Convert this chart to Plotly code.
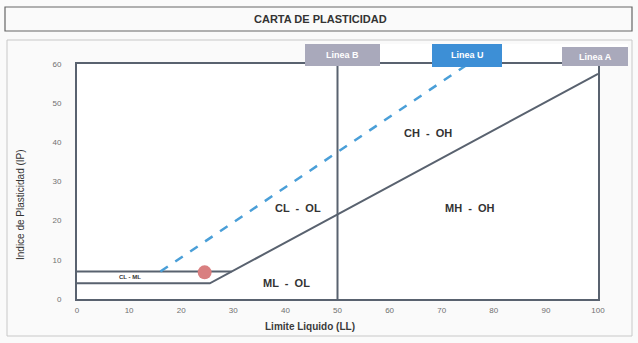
import plotly.graph_objects as go

# ---- data ----
x_ticks = [0, 10, 20, 30, 40, 50, 60, 70, 80, 90, 100]
y_ticks = [0, 10, 20, 30, 40, 50, 60]

linea_a_ll = [0, 25.5, 100]
linea_a_ip = [4, 4, 57.5]

cl_ml_ll = [0, 29.7]
cl_ml_ip = [7, 7]

linea_u_ll = [16, 74.5]
linea_u_ip = [7, 59.5]

linea_b_ll = [50, 50]
linea_b_ip = [0, 60]

muestra_ll = [24.5]
muestra_ip = [6.8]

zonas = ["CH  -  OH", "CL  -  OL", "MH  -  OH", "ML  -  OL", "CL - ML"]
zonas_ll = [67.4, 42.4, 75.4, 40.3, 10.2]
zonas_ip = [42.5, 23.2, 23.2, 4.1, 5.5]
zonas_size = [11, 11, 11, 11, 6]

leyenda = ["Linea B", "Linea U", "Linea A"]
leyenda_colores = ["#a9a9bb", "#3d8fd6", "#a9a9bb"]

# ---- layout helpers (pixel -> paper) ----
W, H = 638, 343
L, R, T, B = 77, 40, 64, 44
pw, ph = W - L - R, H - T - B


def px(x):
    return (x - L) / pw


def py(y):
    return (H - B - y) / ph


LINE = "#59626f"
fig = go.Figure()

fig.add_trace(go.Scatter(x=linea_b_ll, y=linea_b_ip, mode="lines",
                         line=dict(color=LINE, width=2), hoverinfo="skip"))
fig.add_trace(go.Scatter(x=cl_ml_ll, y=cl_ml_ip, mode="lines",
                         line=dict(color=LINE, width=2), hoverinfo="skip"))
fig.add_trace(go.Scatter(x=linea_a_ll, y=linea_a_ip, mode="lines",
                         line=dict(color=LINE, width=2), hoverinfo="skip"))
fig.add_trace(go.Scatter(x=linea_u_ll, y=linea_u_ip, mode="lines",
                         line=dict(color="#4a9fd8", width=2.5, dash="dash"),
                         hoverinfo="skip"))
fig.add_trace(go.Scatter(x=muestra_ll, y=muestra_ip, mode="markers",
                         marker=dict(color="#d97f80", size=14), hoverinfo="skip"))

annotations = []
for t, xx, yy, s in zip(zonas, zonas_ll, zonas_ip, zonas_size):
    annotations.append(dict(x=xx, y=yy, xref="x", yref="y", text=f"<b>{t}</b>",
                            showarrow=False, xanchor="center", yanchor="middle",
                            font=dict(family="Liberation Sans", size=s, color="#333333")))


def pann(x, y, text, size, color, angle=0):
    return dict(x=px(x), y=py(y), xref="paper", yref="paper", text=text,
                showarrow=False, xanchor="center", yanchor="middle", textangle=angle,
                font=dict(family="Liberation Sans", size=size, color=color))


annotations.append(pann(320, 19, "<b>CARTA DE PLASTICIDAD</b>", 11, "#333333"))
annotations.append(pann(310, 326, "<b>Limite Liquido (LL)</b>", 10, "#3a3a3a"))
annotations.append(pann(20, 205, "Indice de Plasticidad (IP)", 10, "#333333", -90))

shapes = [
    # title box
    dict(type="rect", xref="paper", yref="paper", x0=px(5), x1=px(632), y0=py(31), y1=py(7),
         line=dict(color="#666666", width=1.2), fillcolor="rgba(0,0,0,0)", layer="below"),
    # outer chart frame
    dict(type="rect", xref="paper", yref="paper", x0=px(7), x1=px(632), y0=py(336), y1=py(40),
         line=dict(color="#c8c8c8", width=1), fillcolor="rgba(0,0,0,0)", layer="below"),
    # white legend strip
    dict(type="rect", xref="paper", yref="paper", x0=px(305), x1=px(628), y0=py(66), y1=py(44),
         line=dict(width=0), fillcolor="#ffffff", layer="below"),
]

boxes = [(305, 380, 44, 66), (432, 502, 44, 67), (562, 628, 47, 66)]
for (x0, x1, y0, y1), txt, col in zip(boxes, leyenda, leyenda_colores):
    shapes.append(dict(type="rect", xref="paper", yref="paper", x0=px(x0), x1=px(x1),
                       y0=py(y1), y1=py(y0), line=dict(width=0), fillcolor=col))
    annotations.append(pann((x0 + x1) / 2, (y0 + y1) / 2, f"<b>{txt}</b>", 9, "#ffffff"))

fig.update_layout(
    width=W, height=H,
    margin=dict(l=L, r=R, t=T, b=B),
    paper_bgcolor="#fafafa",
    plot_bgcolor="#ffffff",
    showlegend=False,
    annotations=annotations,
    shapes=shapes,
    xaxis=dict(range=[0, 100], tickvals=x_ticks, showgrid=False, zeroline=False,
               showline=True, mirror=True, linecolor=LINE, linewidth=2,
               ticks="", ticklabelstandoff=2,
               tickfont=dict(family="Liberation Sans", size=8, color="#707070")),
    yaxis=dict(range=[0, 60], tickvals=y_ticks, showgrid=False, zeroline=False,
               showline=True, mirror=True, linecolor=LINE, linewidth=2,
               ticks="", ticklabelstandoff=12,
               tickfont=dict(family="Liberation Sans", size=8, color="#707070")),
)

fig.write_html("out.html")
